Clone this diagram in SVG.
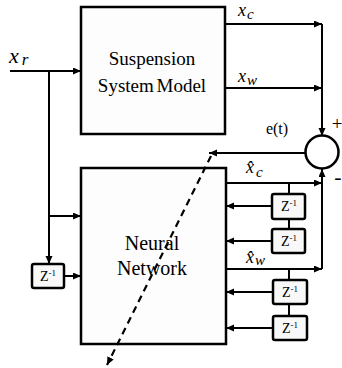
<svg xmlns="http://www.w3.org/2000/svg" width="342" height="368" viewBox="0 0 342 368">
<defs>
<marker id="ah" markerUnits="userSpaceOnUse" markerWidth="9" markerHeight="8" refX="8" refY="3.5" orient="auto">
<path d="M0,0 L8,3.5 L0,7 z" fill="#000"/>
</marker>
<style>
.ln{stroke:#000;stroke-width:2;fill:none}
.arr{stroke:#000;stroke-width:2;fill:none;marker-end:url(#ah)}
.dash{stroke:#000;stroke-width:2.2;fill:none;stroke-dasharray:7,5;marker-end:url(#ah)}
.box{fill:#fdfdfd;stroke:#000;stroke-width:2.5}
.zb{fill:#f8f8f8;stroke:#000;stroke-width:2.5}
text{font-family:'Liberation Serif','DejaVu Serif',serif;fill:#000}
.it{font-style:italic}
.z{font-size:14px;text-anchor:middle}
</style>
</defs>
<rect width="342" height="368" fill="#fff"/>
<g id="connectors">
<line class="arr" x1="10" y1="71" x2="81" y2="71"/>
<line class="ln" x1="49" y1="71" x2="49" y2="216"/>
<line class="arr" x1="49" y1="216" x2="81" y2="216"/>
<line class="arr" x1="49" y1="216" x2="49" y2="264"/>
<line class="arr" x1="64" y1="276" x2="81" y2="276"/>
<line class="arr" x1="225" y1="24" x2="322" y2="24"/>
<line class="arr" x1="225" y1="88" x2="322" y2="88"/>
<line class="arr" x1="322" y1="24" x2="322" y2="136"/>
<line class="arr" x1="226" y1="183" x2="322" y2="183"/>
<line class="arr" x1="226" y1="269" x2="322" y2="269"/>
<line class="arr" x1="322" y1="269" x2="322" y2="169"/>
<line class="arr" x1="306" y1="153" x2="209" y2="153"/>
<line class="ln" x1="289" y1="183" x2="289" y2="194"/>
<line class="ln" x1="289" y1="219" x2="289" y2="229"/>
<line class="ln" x1="289" y1="269" x2="289" y2="280"/>
<line class="ln" x1="289" y1="304" x2="289" y2="316"/>
<line class="arr" x1="272" y1="206" x2="226" y2="206"/>
<line class="arr" x1="272" y1="241" x2="226" y2="241"/>
<line class="arr" x1="272" y1="292" x2="226" y2="292"/>
<line class="arr" x1="272" y1="328" x2="226" y2="328"/>
</g>
<g id="suspension">
<rect class="box" x="81" y="7" width="144" height="127"/>
<text x="152" y="65" font-size="19" text-anchor="middle">Suspension</text>
<text x="152" y="92" font-size="19" text-anchor="middle" word-spacing="-2">System Model</text>
</g>
<g id="neural">
<rect class="box" x="81" y="168" width="145" height="176"/>
<text x="152" y="250" font-size="20" text-anchor="middle">Neural</text>
<text x="152" y="275" font-size="20" text-anchor="middle">Network</text>
</g>
<g id="sum">
<circle cx="322" cy="152" r="16.5" fill="#fff" stroke="#000" stroke-width="2.5"/>
<text x="337" y="130" font-size="19" text-anchor="middle">+</text>
<text x="338" y="184" font-size="22" text-anchor="middle">-</text>
</g>
<g id="z0"><rect class="zb" x="32" y="264" width="32" height="24" rx="2"/><text class="z" x="48" y="281">Z<tspan font-size="9" dy="-5">-1</tspan></text></g>
<g id="z1"><rect class="zb" x="272" y="194" width="33" height="25" rx="2"/><text class="z" x="289" y="211">Z<tspan font-size="9" dy="-5">-1</tspan></text></g>
<g id="z2"><rect class="zb" x="272" y="229" width="33" height="24" rx="2"/><text class="z" x="289" y="246">Z<tspan font-size="9" dy="-5">-1</tspan></text></g>
<g id="z3"><rect class="zb" x="273" y="280" width="34" height="24" rx="2"/><text class="z" x="290" y="297">Z<tspan font-size="9" dy="-5">-1</tspan></text></g>
<g id="z4"><rect class="zb" x="273" y="316" width="34" height="24" rx="2"/><text class="z" x="290" y="333">Z<tspan font-size="9" dy="-5">-1</tspan></text></g>
<g id="labels">
<text class="it" x="9" y="63" font-size="22">x<tspan font-size="17" dx="3" dy="2">r</tspan></text>
<text class="it" x="238" y="16" font-size="18">x<tspan font-size="15" dx="1" dy="3">c</tspan></text>
<text class="it" x="238" y="82" font-size="18">x<tspan font-size="15" dx="1" dy="3">w</tspan></text>
<text x="277" y="134" font-size="16" text-anchor="middle">e(t)</text>
<text class="it" x="246" y="173" font-size="18">x̂<tspan font-size="15" dx="2" dy="4">c</tspan></text>
<text class="it" x="246" y="263" font-size="18">x̂<tspan font-size="15" dx="1" dy="2">w</tspan></text>
</g>
<g id="error-path">
<line class="dash" x1="211" y1="156" x2="107" y2="365"/>
</g>
</svg>
